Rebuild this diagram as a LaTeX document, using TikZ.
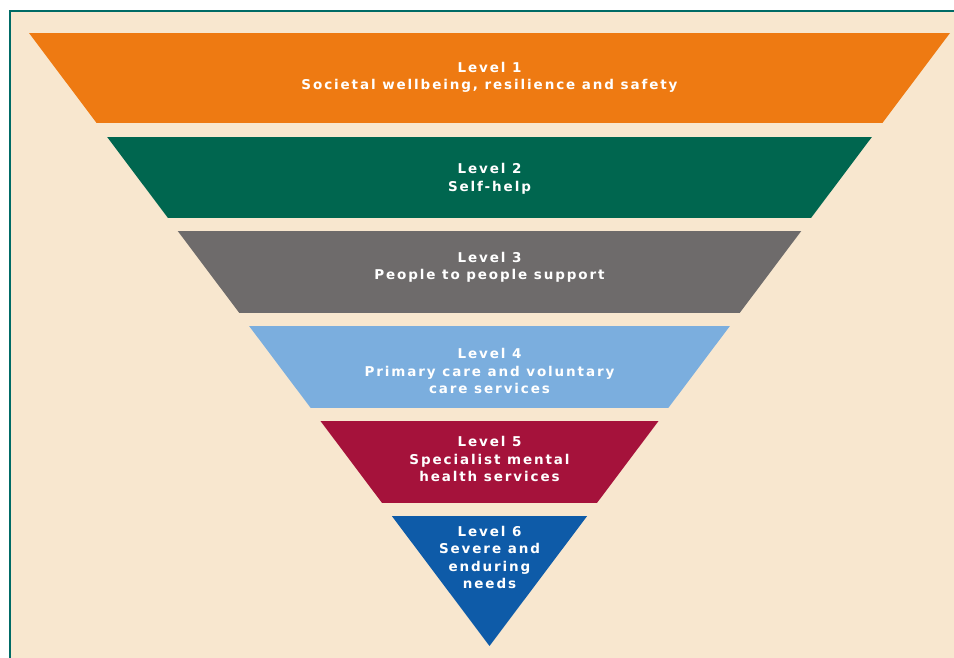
\documentclass[tikz,border=0pt]{standalone}
\usepackage{fontspec}
\setmainfont{DejaVu Sans}

\definecolor{paper}{HTML}{F8E7CF}
\definecolor{frame}{HTML}{006B66}
\definecolor{lvlone}{HTML}{EE7A12}
\definecolor{lvltwo}{HTML}{00664F}
\definecolor{lvlthree}{HTML}{6E6B6B}
\definecolor{lvlfour}{HTML}{7BAEDE}
\definecolor{lvlfive}{HTML}{A5123B}
\definecolor{lvlsix}{HTML}{0E5BA8}

\tikzset{
  lvltext/.style={text=white, align=center, inner sep=0pt,
    font=\bfseries\fontsize{13.5}{17.5}\selectfont\addfontfeature{LetterSpace=14}},
}

\begin{document}
\begin{tikzpicture}[x=1pt,y=-1pt]
  \useasboundingbox (0,0) rectangle (954,658);
  % page and frame
  \fill[paper] (10,11) rectangle (954,658);
  \draw[frame, line width=2.2pt] (10,658) -- (10,11) -- (954,11);

  % the inverted pyramid, cut into six bands
  \begin{scope}
    \clip (29,33) -- (950,33) -- (489.5,646) -- cycle;
    \fill[lvlone]   (0,33)  rectangle (954,123);
    \fill[lvltwo]   (0,137) rectangle (954,218);
    \fill[lvlthree] (0,231) rectangle (954,313);
    \fill[lvlfour]  (0,326) rectangle (954,408);
    \fill[lvlfive]  (0,421) rectangle (954,503);
    \fill[lvlsix]   (0,516) rectangle (954,660);
  \end{scope}

  \node[lvltext] (one)   at (489.5,77.5) {Level 1\\Societal wellbeing, resilience and safety};
  \node[lvltext] (two)   at (489.5,179)  {Level 2\\Self-help};
  \node[lvltext] (three) at (489.5,267.5) {Level 3\\People to people support};
  \node[lvltext] (four)  at (489.5,371)  {Level 4\\Primary care and voluntary\\care services};
  \node[lvltext] (five)  at (489.5,459)  {Level 5\\Specialist mental\\health services};
  \node[lvltext] (six)   at (489.5,557.5) {Level 6\\Severe and\\enduring\\needs};
\end{tikzpicture}
\end{document}
